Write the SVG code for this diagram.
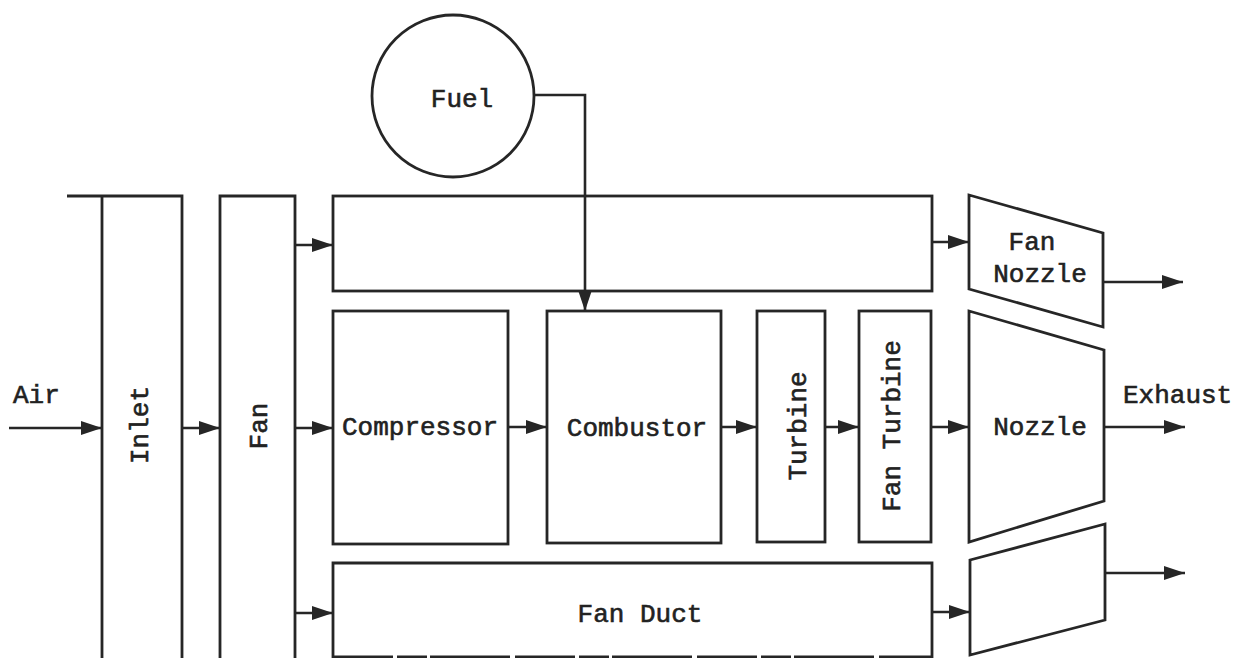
<svg xmlns="http://www.w3.org/2000/svg" width="1237" height="658" viewBox="0 0 1237 658">
<style>
.s{fill:none;stroke:#262626;stroke-width:2.8;stroke-linejoin:miter}
.c{fill:none;stroke:#262626;stroke-width:2.6;marker-end:url(#ah)}
.t{font-family:"Liberation Mono","Courier New",monospace;font-size:26px;fill:#222;stroke:#222;stroke-width:0.6}
.m{text-anchor:middle}
</style>
<defs>
<marker id="ah" markerUnits="userSpaceOnUse" markerWidth="24" markerHeight="16" refX="21" refY="8" orient="auto">
<path d="M0,1 L21,8 L0,15 Z" fill="#262626"/>
</marker>
</defs>
<rect width="1237" height="658" fill="#fff"/>
<g id="fuel">
<circle class="s" cx="453" cy="96" r="81"/>
<text class="t m" x="462" y="107">Fuel</text>
</g>
<g id="inlet">
<path class="s" d="M67,196 H182 V658 M102,196 V658"/>
<text class="t m" x="148" y="425" transform="rotate(-90 148 425)">Inlet</text>
</g>
<g id="fan">
<path class="s" d="M220,658 V196 H295 V658"/>
<text class="t m" x="267" y="426" transform="rotate(-90 267 426)">Fan</text>
</g>
<g id="fan-bypass-top">
<rect class="s" x="333" y="196" width="599" height="95"/>
</g>
<g id="compressor">
<rect class="s" x="333" y="311" width="175" height="233"/>
<text class="t m" x="420" y="435">Compressor</text>
</g>
<g id="combustor">
<rect class="s" x="547" y="311" width="174" height="232"/>
<text class="t m" x="637" y="436">Combustor</text>
</g>
<g id="turbine">
<rect class="s" x="757" y="311" width="68" height="231"/>
<text class="t m" x="806" y="426" transform="rotate(-90 806 426)">Turbine</text>
</g>
<g id="fan-turbine">
<rect class="s" x="859" y="311" width="72" height="231"/>
<text class="t m" x="900" y="426" transform="rotate(-90 900 426)">Fan Turbine</text>
</g>
<g id="fan-duct">
<path class="s" d="M333,658 V563 H932 V658"/>
<path class="s" d="M333,657 H932" stroke-dasharray="60 4 30 3 80 5"/>
<text class="t m" x="640" y="622">Fan Duct</text>
</g>
<g id="fan-nozzle">
<path class="s" d="M969,195 L1103,233 L1103,327 L969,289 Z"/>
<text class="t m" x="1032" y="250">Fan</text>
<text class="t m" x="1040" y="282">Nozzle</text>
</g>
<g id="nozzle">
<path class="s" d="M969,311 L1104,350 L1104,501 L969,542 Z"/>
<text class="t m" x="1040" y="435">Nozzle</text>
</g>
<g id="duct-nozzle">
<path class="s" d="M970,560 L1105,524 L1105,620 L970,655 Z"/>
</g>
<g id="labels">
<text class="t" x="13" y="403">Air</text>
<text class="t" x="1123" y="403">Exhaust</text>
</g>
<g id="connectors">
<path class="c" d="M9,428 H102"/>
<path class="c" d="M182,428 H220"/>
<path class="c" d="M295,428 H333"/>
<path class="c" d="M295,245 H333"/>
<path class="c" d="M295,613 H333"/>
<path class="c" d="M508,427 H547"/>
<path class="c" d="M721,427 H757"/>
<path class="c" d="M825,427 H859"/>
<path class="c" d="M931,427 H969"/>
<path class="c" d="M932,242 H969"/>
<path class="c" d="M932,612 H970"/>
<path class="c" d="M1103,282 H1183"/>
<path class="c" d="M1104,427 H1185"/>
<path class="c" d="M1105,573 H1185"/>
<path class="c" d="M534,95 H585 V311"/>
</g>
</svg>
